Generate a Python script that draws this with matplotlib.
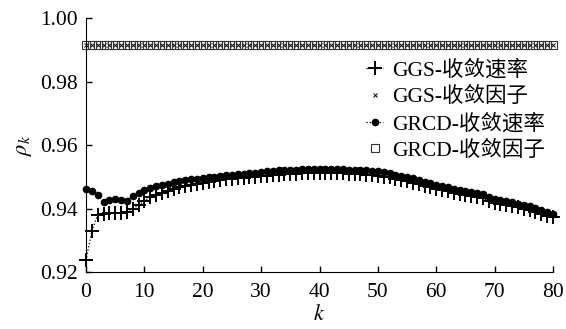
import matplotlib
matplotlib.use("Agg")
import matplotlib.pyplot as plt
import numpy as np

plt.rcParams['font.family'] = ['Liberation Serif', 'Noto Sans CJK SC']
plt.rcParams['mathtext.fontset'] = 'stix'

# iteration index
k = np.arange(0, 81)

# GGS convergence rate
ggs_rate = [0.9237, 0.9330, 0.9380, 0.9382, 0.9385, 0.9386, 0.9387, 0.9390, 0.9400, 0.9410,
            0.9425, 0.9435, 0.9442, 0.9450, 0.9456, 0.9462, 0.9467, 0.9471, 0.9475, 0.9478,
            0.9481, 0.9485, 0.9488, 0.9490, 0.9492, 0.9494, 0.9496, 0.9497, 0.9499, 0.9501,
            0.9502, 0.9504, 0.9506, 0.9507, 0.9508, 0.9509, 0.9510, 0.9511, 0.9511, 0.9512,
            0.9512, 0.9512, 0.9512, 0.9511, 0.9511, 0.9510, 0.9509, 0.9508, 0.9507, 0.9506,
            0.9504, 0.9501, 0.9498, 0.9494, 0.9490, 0.9486, 0.9482, 0.9477, 0.9472, 0.9467,
            0.9462, 0.9458, 0.9454, 0.9450, 0.9446, 0.9442, 0.9439, 0.9436, 0.9432, 0.9425,
            0.9417, 0.9414, 0.9411, 0.9408, 0.9404, 0.9400, 0.9395, 0.9390, 0.9384, 0.9378,
            0.9372]

# GRCD convergence rate
grcd_rate = [0.9462, 0.9455, 0.9443, 0.9420, 0.9427, 0.9430, 0.9428, 0.9425, 0.9440, 0.9450,
             0.9458, 0.9465, 0.9470, 0.9475, 0.9479, 0.9483, 0.9486, 0.9489, 0.9492, 0.9494,
             0.9497, 0.9499, 0.9501, 0.9503, 0.9505, 0.9506, 0.9508, 0.9509, 0.9511, 0.9513,
             0.9515, 0.9517, 0.9519, 0.9520, 0.9521, 0.9522, 0.9523, 0.9524, 0.9524, 0.9525,
             0.9525, 0.9525, 0.9525, 0.9524, 0.9524, 0.9523, 0.9522, 0.9521, 0.9520, 0.9519,
             0.9517, 0.9514, 0.9511, 0.9507, 0.9503, 0.9499, 0.9495, 0.9490, 0.9485, 0.9480,
             0.9475, 0.9471, 0.9467, 0.9463, 0.9459, 0.9455, 0.9452, 0.9449, 0.9445, 0.9438,
             0.9429, 0.9426, 0.9423, 0.9420, 0.9416, 0.9412, 0.9407, 0.9402, 0.9396, 0.9390,
             0.9384]

# convergence factors (constant)
ggs_factor = 0.9915
grcd_factor = 0.9915

labels = ['GGS-收敛速率', 'GGS-收敛因子', 'GRCD-收敛速率', 'GRCD-收敛因子']

fig = plt.figure(figsize=(5.66, 3.29), dpi=100)
ax = fig.add_axes([0.152, 0.173, 0.825, 0.772])

ax.plot(k, grcd_rate, ls=':', lw=0.9, color='black', marker='o', ms=4.5,
        markerfacecolor='black', markeredgecolor='black', label=labels[2], clip_on=False)
ax.plot(k, ggs_rate, ls=':', lw=0.9, color='black', marker='+', ms=10,
        markeredgewidth=1.4, label=labels[0], clip_on=False)
ax.plot(k, [ggs_factor] * len(k), ls='none', color='black', marker='x', ms=2.5,
        markeredgewidth=0.7, label=labels[1], clip_on=False)
ax.plot(k, [grcd_factor] * len(k), ls='none', color='#444444', marker='s', ms=5.5,
        markerfacecolor='none', markeredgecolor='#333333', markeredgewidth=0.8,
        label=labels[3], clip_on=False)

ax.set_xlim(0, 80)
ax.set_ylim(0.92, 1.00)
ax.set_xticks(np.arange(0, 81, 10))
ax.set_yticks([0.92, 0.94, 0.96, 0.98, 1.00])
ax.set_yticklabels(['0.92', '0.94', '0.96', '0.98', '1.00'])
ax.spines['top'].set_visible(False)
ax.spines['right'].set_visible(False)
ax.tick_params(direction='in', length=4, labelsize=15.5, width=1)
ax.tick_params(axis='x', pad=8)
ax.tick_params(axis='y', pad=6)
ax.set_xlabel('$k$', fontsize=16, labelpad=2)
ax.set_ylabel(r'$\rho_k$', fontsize=16, labelpad=4)

handles, labs = ax.get_legend_handles_labels()
order = [1, 2, 0, 3]
ax.legend([handles[i] for i in order], [labs[i] for i in order],
          loc='upper right', bbox_to_anchor=(1.01, 0.885), frameon=False,
          fontsize=15.5, handlelength=0.8, handletextpad=0.4, labelspacing=0.3,
          borderaxespad=0.2)

fig.savefig('out.png', dpi=100)
